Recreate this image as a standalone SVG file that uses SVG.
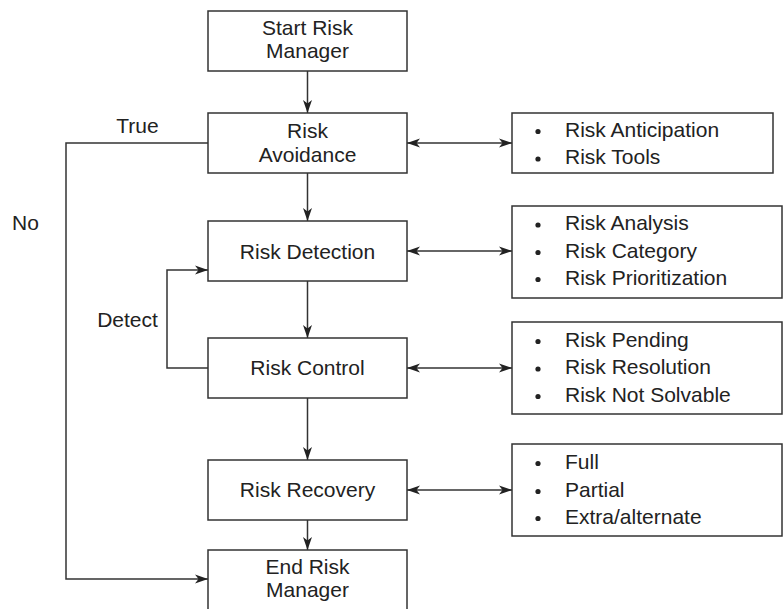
<svg xmlns="http://www.w3.org/2000/svg" width="783" height="609" viewBox="0 0 783 609">
<defs>
<style>
.box{fill:#fff;stroke:#333;stroke-width:1.5}
.t{font-family:"Liberation Sans",Arial,sans-serif;font-size:21px;fill:#222}
.c{text-anchor:middle}
.ln{fill:none;stroke:#333;stroke-width:1.5}
.dot{fill:#222}
</style>
<marker id="ah" viewBox="-1 -5 15 10" markerWidth="15" markerHeight="10" refX="13" refY="0" orient="auto-start-reverse" markerUnits="userSpaceOnUse">
<path d="M0,-4.5 L13,0 L0,4.5 L3.5,0 z" fill="#222"/>
</marker>
</defs>
<rect width="783" height="609" fill="#fff"/>
<g id="connectors">
<line class="ln" x1="307.5" y1="71" x2="307.5" y2="113" marker-end="url(#ah)"/>
<line class="ln" x1="307.5" y1="173" x2="307.5" y2="221" marker-end="url(#ah)"/>
<line class="ln" x1="307.5" y1="281" x2="307.5" y2="338" marker-end="url(#ah)"/>
<line class="ln" x1="307.5" y1="398" x2="307.5" y2="460" marker-end="url(#ah)"/>
<line class="ln" x1="307.5" y1="520" x2="307.5" y2="550" marker-end="url(#ah)"/>
<line class="ln" x1="407" y1="143" x2="512" y2="143" marker-start="url(#ah)" marker-end="url(#ah)"/>
<line class="ln" x1="407" y1="251" x2="512" y2="251" marker-start="url(#ah)" marker-end="url(#ah)"/>
<line class="ln" x1="407" y1="368" x2="512" y2="368" marker-start="url(#ah)" marker-end="url(#ah)"/>
<line class="ln" x1="407" y1="490" x2="512" y2="490" marker-start="url(#ah)" marker-end="url(#ah)"/>
<polyline class="ln" points="208,143 66,143 66,579 208,579" marker-end="url(#ah)"/>
<polyline class="ln" points="208,368 167,368 167,270 208,270" marker-end="url(#ah)"/>
<text class="t c" x="137.5" y="133">True</text>
<text class="t" x="12" y="230">No</text>
<text class="t c" x="127.5" y="327">Detect</text>
</g>
<g id="start">
<rect class="box" x="208" y="11" width="199" height="60"/>
<text class="t c" x="307.5" y="35">Start Risk</text>
<text class="t c" x="307.5" y="58">Manager</text>
</g>
<g id="avoidance">
<rect class="box" x="208" y="113" width="199" height="60"/>
<text class="t c" x="307.5" y="137.5">Risk</text>
<text class="t c" x="307.5" y="161.5">Avoidance</text>
</g>
<g id="detection">
<rect class="box" x="208" y="221" width="199" height="60"/>
<text class="t c" x="307.5" y="258.5">Risk Detection</text>
</g>
<g id="control">
<rect class="box" x="208" y="338" width="199" height="60"/>
<text class="t c" x="307.5" y="375">Risk Control</text>
</g>
<g id="recovery">
<rect class="box" x="208" y="460" width="199" height="60"/>
<text class="t c" x="307.5" y="497">Risk Recovery</text>
</g>
<g id="end">
<rect class="box" x="208" y="550" width="199" height="80"/>
<text class="t c" x="307.5" y="573.5">End Risk</text>
<text class="t c" x="307.5" y="596.5">Manager</text>
</g>
<g id="avoidance-list">
<rect class="box" x="512" y="113" width="261" height="60"/>
<circle class="dot" cx="538" cy="131.5" r="2.6"/>
<text class="t" x="565" y="136.7">Risk Anticipation</text>
<circle class="dot" cx="538" cy="159" r="2.6"/>
<text class="t" x="565" y="164">Risk Tools</text>
</g>
<g id="detection-list">
<rect class="box" x="512" y="206" width="270" height="92"/>
<circle class="dot" cx="538" cy="225" r="2.6"/>
<text class="t" x="565" y="230">Risk Analysis</text>
<circle class="dot" cx="538" cy="252.5" r="2.6"/>
<text class="t" x="565" y="257.5">Risk Category</text>
<circle class="dot" cx="538" cy="279.5" r="2.6"/>
<text class="t" x="565" y="284.5">Risk Prioritization</text>
</g>
<g id="control-list">
<rect class="box" x="512" y="322" width="270" height="92"/>
<circle class="dot" cx="538" cy="341.5" r="2.6"/>
<text class="t" x="565" y="346.5">Risk Pending</text>
<circle class="dot" cx="538" cy="369" r="2.6"/>
<text class="t" x="565" y="374">Risk Resolution</text>
<circle class="dot" cx="538" cy="396.5" r="2.6"/>
<text class="t" x="565" y="401.5">Risk Not Solvable</text>
</g>
<g id="recovery-list">
<rect class="box" x="512" y="444" width="270" height="92"/>
<circle class="dot" cx="538" cy="463.5" r="2.6"/>
<text class="t" x="565" y="468.5">Full</text>
<circle class="dot" cx="538" cy="491.5" r="2.6"/>
<text class="t" x="565" y="496.5">Partial</text>
<circle class="dot" cx="538" cy="518.5" r="2.6"/>
<text class="t" x="565" y="523.5">Extra/alternate</text>
</g>
</svg>
